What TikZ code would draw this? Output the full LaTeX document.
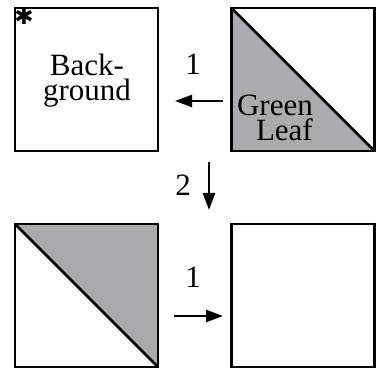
\documentclass[tikz,border=0pt]{standalone}
\usepackage{fontspec}
\setmainfont{Liberation Serif}
\newfontfamily\symfont{DejaVu Sans}
\usetikzlibrary{arrows.meta}
\definecolor{leafgray}{RGB}{170,171,175}

\begin{document}
\begin{tikzpicture}[x=1pt, y=-1pt, every node/.style={font=\fontsize{31}{25}\selectfont, inner sep=0pt}, >={Triangle[length=17pt,width=12pt]}, sq/.style={draw, line width=2.6pt, minimum size=143pt}, lowleaf/.style={path picture={\fill[leafgray] (path picture bounding box.north west) -- (path picture bounding box.south east) -- (path picture bounding box.south west) -- cycle; \draw[line width=2.6pt] (path picture bounding box.north west) -- (path picture bounding box.south east);}}, highleaf/.style={path picture={\fill[leafgray] (path picture bounding box.north west) -- (path picture bounding box.south east) -- (path picture bounding box.north east) -- cycle; \draw[line width=2.6pt] (path picture bounding box.north west) -- (path picture bounding box.south east);}}, step arrow/.style={->, line width=2.2pt}]
	\useasboundingbox (0,0) rectangle (378,371);
	\node[sq] (bg) at (86.5,79.5) {};
	\node[sq, lowleaf] (leaf) at (303,79.5) {};
	\node[sq, highleaf] (flip) at (86.5,295.5) {};
	\node[sq] (out) at (303,295.5) {};
	\node[align=center] (bgtext) at (87,81) {Back-\\ground};
	\node[align=right, anchor=east] (leaftext) at (313,118) {Green\\Leaf};
	\node[font=\symfont\fontsize{23}{23}\selectfont] (star) at (24,16) {✱};
	\coordinate (a1s) at (223,101);
	\coordinate (a1e) at (175,101);
	\coordinate (a2s) at (209,162);
	\coordinate (a2e) at (209,210);
	\coordinate (a3s) at (174,316);
	\coordinate (a3e) at (223,316);
	\draw[step arrow] (a1s) -- (a1e);
	\draw[step arrow] (a2s) -- (a2e);
	\draw[step arrow] (a3s) -- (a3e);
	\node (one) at (193,64) {1};
	\node (two) at (183,185) {2};
	\node (oneb) at (193,277) {1};
\end{tikzpicture}
\end{document}
